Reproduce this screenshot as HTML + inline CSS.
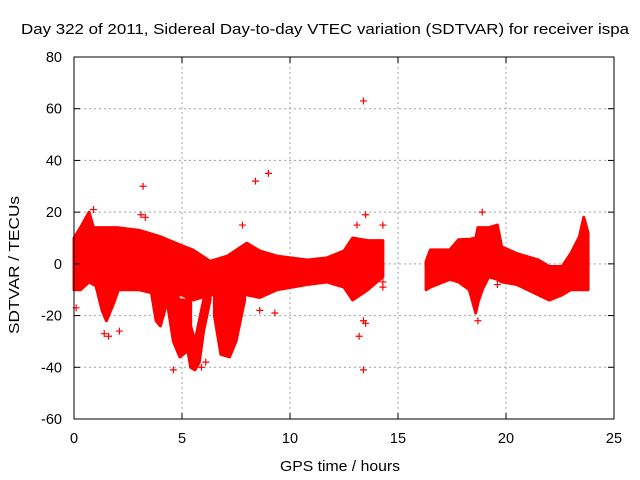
<!DOCTYPE html>
<html><head><meta charset="utf-8"><style>
body{margin:0;background:#fff}
svg{display:block;font-family:"Liberation Sans",sans-serif}
</style></head><body>
<svg id="chart" width="640" height="480" viewBox="0 0 640 480" xmlns="http://www.w3.org/2000/svg">
<text x="325" y="34" font-size="15" text-anchor="middle" textLength="608" lengthAdjust="spacingAndGlyphs">Day 322 of 2011, Sidereal Day-to-day VTEC variation (SDTVAR) for receiver ispa</text>
<text x="340" y="471" font-size="15" text-anchor="middle" textLength="120" lengthAdjust="spacingAndGlyphs">GPS time / hours</text>
<text transform="translate(19,265) rotate(-90)" font-size="15" text-anchor="middle" textLength="138" lengthAdjust="spacingAndGlyphs">SDTVAR / TECUs</text>
<g id="grid"></g>
<g id="marks"></g>
<g id="axes"></g>
</svg>
<script>
const xTicks=[0,5,10,15,20,25];
const yTicks=[80,60,40,20,0,-20,-40,-60];
// main dense band (hours 0-14.3)
const mainT=[0,0.3,0.7,0.9,1.2,2,3,4,5,5.5,6.3,7.1,8,8.6,9.4,10.8,11.7,12.5,12.9,13.6,14.3];
const mainHi=[10,14,20,14,14,14,13,10.5,7,5.4,1,3,8,5,3,1.5,2.3,5,10,9,9];
const mainLo=[-10,-10,-7,-8,-9,-10,-10,-12,-12,-14,-12,-12,-12,-13,-10,-8,-7,-9,-14,-10,-5];
// dips (lobes)
const lobeAT=[1.0,1.3,1.5,1.8,2.1], lobeAHi=[-5,-5,-5,-5,-5], lobeALo=[-8,-18,-22,-16,-9];
const lobeBT=[3.6,3.8,4.0,4.3], lobeBHi=[-8,-10,-10,-8], lobeBLo=[-12,-22,-24,-15];
const lobeCT=[4.3,4.6,4.9,5.2,5.4], lobeCHi=[-8,-10,-14,-14,-10], lobeCLo=[-14,-30,-36,-34,-25];
const lobeDT=[5.2,5.4,5.6,5.8,6.0,6.3], lobeDHi=[-14,-24,-30,-22,-14,-10], lobeDLo=[-30,-40,-41,-38,-26,-14];
const lobeET=[6.5,6.8,7.2,7.5,7.9], lobeEHi=[-8,-12,-12,-10,-8], lobeELo=[-20,-35,-36,-30,-14];
// second segment (hours 16.3-23.8)
const rightT=[16.3,16.5,17.4,17.8,18.3,18.6,18.7,18.9,19.2,19.6,19.8,20.5,21.5,22,22.6,23,23.4,23.6,23.8];
const rightHi=[1,5.4,5.4,9.3,9.5,10,14,14,14,15,6.6,4,1.5,-1,-1,4,10.5,18,12];
const rightLo=[-10,-9,-6,-7,-10,-19,-15,-10,-5,-6,-7,-8,-12,-14,-12,-10,-10,-10,-10];
// scattered outliers
const outT=[3.2,8.4,9.0,13.4,13.5,13.4,13.2,13.5,13.4,4.6,2.1,8.6,9.3,0.1,0.9,7.8,14.3,14.3,14.3,18.7,19.6,3.1,3.3,13.1,18.9,1.4,1.6,5.9,6.1];
const outV=[30,32,35,63,19,-41,-28,-23,-22,-41,-26,-18,-19,-17,21,15,-7,-9,15,-22,-8,19,18,15,20,-27,-28,-40,-38];

const X0=74,X1=614,Y0=419,Y1=57;
const sx=v=>X0+(v-0)/25*(X1-X0);
const sy=v=>Y0-(v+60)/140*(Y0-Y1);
const NS='http://www.w3.org/2000/svg';
const grid=document.getElementById('grid'),marks=document.getElementById('marks'),axes=document.getElementById('axes');
function mk(tag,attrs,parent){const e=document.createElementNS(NS,tag);for(const k in attrs)e.setAttribute(k,attrs[k]);parent.appendChild(e);return e;}
xTicks.forEach(t=>{
  if(t>0&&t<25){const g=mk('line',{x1:sx(t),x2:sx(t),y1:Y1,y2:Y0,stroke:'#a0a0a0','stroke-dasharray':'2,3'},grid);
  
  }
  const a=mk('line',{x1:sx(t),x2:sx(t),y1:Y0,y2:Y0-6,stroke:'#000'},axes);
  
  
  const b=mk('line',{x1:sx(t),x2:sx(t),y1:Y1,y2:Y1+6,stroke:'#000'},axes);
  
  
  const l=mk('text',{x:sx(t),y:Y0+24,'font-size':'14.5','text-anchor':'middle'},axes);l.textContent=t;
  
  
});
yTicks.forEach(t=>{
  if(t>-60&&t<80){const g=mk('line',{x1:X0,x2:X1,y1:sy(t),y2:sy(t),stroke:'#a0a0a0','stroke-dasharray':'2,3'},grid);
  
  }
  const a=mk('line',{x1:X0,x2:X0+6,y1:sy(t),y2:sy(t),stroke:'#000'},axes);
  
  
  const b=mk('line',{x1:X1,x2:X1-6,y1:sy(t),y2:sy(t),stroke:'#000'},axes);
  
  
  const l=mk('text',{x:X0-12,y:sy(t)+5,'font-size':'14.5','text-anchor':'end'},axes);l.textContent=t;
  
  
});
const frame=mk('rect',{x:X0,y:Y1,width:X1-X0,height:Y0-Y1,fill:'none',stroke:'#000'},axes);


function band(T,H,L,name){
  let pts=T.map((t,i)=>sx(t)+','+sy(H[i]));
  pts=pts.concat(T.map((t,i)=>sx(t)+','+sy(L[i])).reverse());
  const p=mk('polygon',{points:pts.join(' '),fill:'#ff0000',stroke:'#ff0000','stroke-width':'3','stroke-linejoin':'round'},marks);
  
  
}
band(mainT,mainHi,mainLo,'main-band');
band(lobeAT,lobeAHi,lobeALo,'dip-a');
band(lobeBT,lobeBHi,lobeBLo,'dip-b');
band(lobeCT,lobeCHi,lobeCLo,'dip-c');
band(lobeDT,lobeDHi,lobeDLo,'dip-d');
band(lobeET,lobeEHi,lobeELo,'dip-e');
band(rightT,rightHi,rightLo,'late-band');
outT.forEach((t,i)=>{
  const x=sx(t),y=sy(outV[i]);
  const p=mk('path',{d:`M${x-3.5},${y}H${x+3.5}M${x},${y-3.5}V${y+3.5}`,stroke:'#ff0000','stroke-width':'1.2'},marks);
  
  
});
</script>
</body></html>
